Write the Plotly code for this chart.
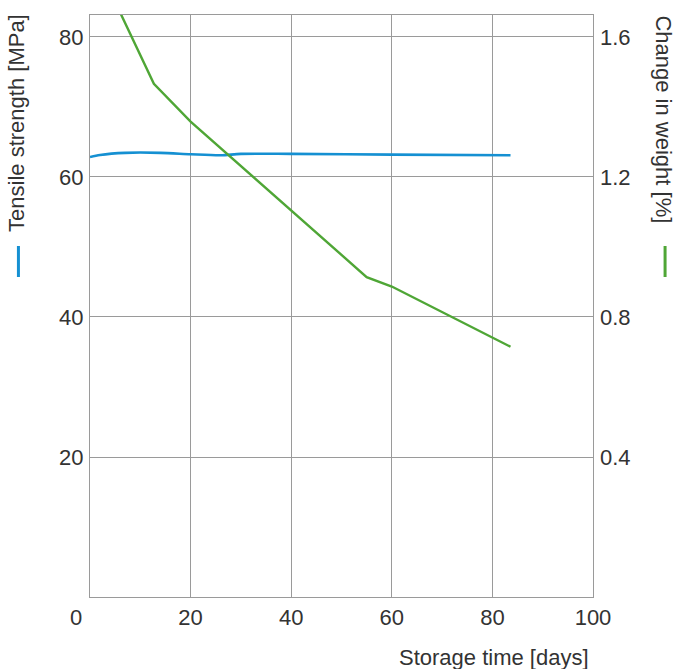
import plotly.graph_objects as go

# Data
tensile_days = [0, 2, 7, 14, 20, 26, 30, 40, 60, 83.6]
tensile_mpa = [62.85, 63.15, 63.45, 63.45, 63.25, 63.1, 63.3, 63.3, 63.2, 63.1]

weight_days = [5, 12.7, 20, 40, 55, 60, 83.6]
weight_pct = [1.70, 1.466, 1.358, 1.103, 0.914, 0.887, 0.715]

x_ticks = [20, 40, 60, 80, 100]
left_ticks = [20, 40, 60, 80]
right_ticks = [0.4, 0.8, 1.2, 1.6]
right_tick_text = ["0.4", "0.8", "1.2", "1.6"]

BLUE = "#1590d2"
GREEN = "#4fa636"
TEXT = "#333333"
GRID = "#9a9a9a"
FONT = "Liberation Sans"

fig = go.Figure()
fig.add_trace(go.Scatter(x=tensile_days, y=tensile_mpa, mode="lines",
                         line=dict(color=BLUE, width=2.6, shape="spline", smoothing=0.8),
                         yaxis="y", showlegend=False, hoverinfo="skip"))
fig.add_trace(go.Scatter(x=weight_days, y=weight_pct, mode="lines",
                         line=dict(color=GREEN, width=2.4),
                         yaxis="y2", showlegend=False, hoverinfo="skip"))

ymax = 83.14
fig.update_layout(
    width=676, height=669,
    margin=dict(l=90, r=83, t=15, b=72),
    paper_bgcolor="white", plot_bgcolor="white",
    font=dict(family=FONT, size=22, color=TEXT),
    xaxis=dict(range=[0, 100], tickvals=x_ticks, showgrid=True, gridcolor=GRID,
               gridwidth=1.3, showline=True, linecolor=GRID, linewidth=1.3,
               mirror=True, ticks="", zeroline=False, ticklabelstandoff=0),
    yaxis=dict(range=[0, ymax], tickvals=left_ticks, showgrid=True, gridcolor=GRID,
               gridwidth=1.3, showline=True, linecolor=GRID, linewidth=1.3,
               mirror=True, ticks="", zeroline=False, ticklabelstandoff=1),
    yaxis2=dict(range=[0, ymax / 50], tickvals=right_ticks, ticktext=right_tick_text,
                overlaying="y", side="right", showgrid=False, showline=False,
                ticks="", zeroline=False, ticklabelstandoff=6),
)

def px_x(px):
    return (px - 90.5) / 502.5

def px_y(py):
    return (597 - py) / 582

fig.add_annotation(text="0", xref="x", x=0, xshift=-14, yref="paper", y=0, yshift=-20,
                   showarrow=False, xanchor="center", yanchor="middle",
                   font=dict(size=22, color=TEXT))
fig.add_annotation(text="Storage time [days]", xref="paper", x=px_x(591), yref="paper",
                   y=px_y(657), showarrow=False, xanchor="right", yanchor="middle",
                   font=dict(size=22, color=TEXT))
fig.add_annotation(text="Tensile strength [MPa]", xref="paper", x=px_x(17), yref="paper",
                   y=px_y(122.5), textangle=-90, showarrow=False, xanchor="center",
                   yanchor="middle", font=dict(size=22, color=TEXT))
fig.add_annotation(text="Change in weight [%]", xref="paper", x=px_x(663), yref="paper",
                   y=px_y(119.5), textangle=90, showarrow=False, xanchor="center",
                   yanchor="middle", font=dict(size=22, color=TEXT))

fig.add_shape(type="line", xref="paper", yref="paper", x0=px_x(19), x1=px_x(19),
              y0=px_y(246), y1=px_y(277), line=dict(color=BLUE, width=3))
fig.add_shape(type="line", xref="paper", yref="paper", x0=px_x(665), x1=px_x(665),
              y0=px_y(246), y1=px_y(277), line=dict(color=GREEN, width=3))

fig.write_html("out.html", config={"displayModeBar": False},
               post_script="document.body.style.margin='0';document.body.style.padding='0';")
